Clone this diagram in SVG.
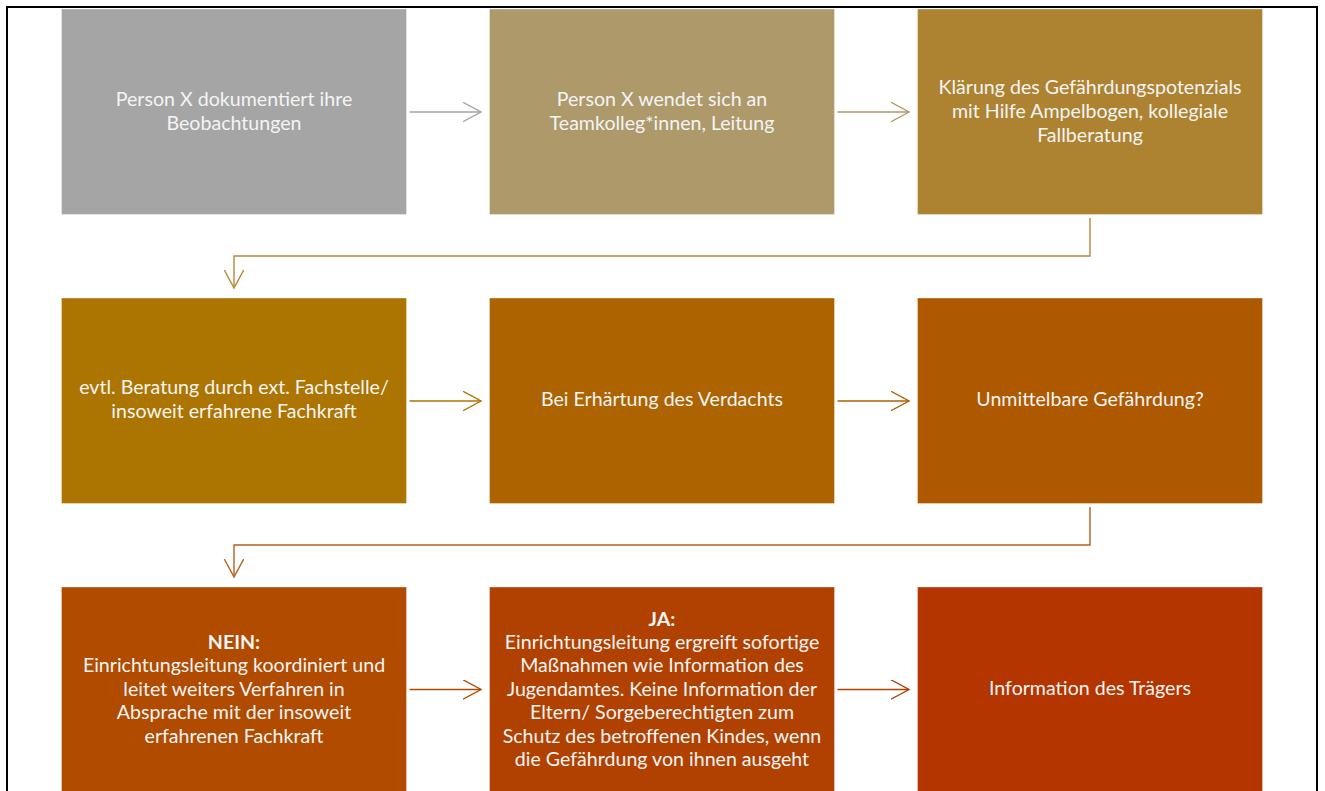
<svg xmlns="http://www.w3.org/2000/svg" width="1325" height="791" viewBox="0 0 1325 791">
<style>
.box{stroke-width:1;stroke-opacity:0.35;stroke:#ffffff}
.t{font-family:"Lato","Open Sans","Liberation Sans",sans-serif;font-size:19.6px;fill:#F4F4F4;text-anchor:middle}
.b{font-weight:bold}
.c{fill:none;stroke-width:1.4}
</style>
<defs>
<marker id="ah" markerWidth="20" markerHeight="22" refX="18" refY="10" orient="auto" markerUnits="userSpaceOnUse">
<path d="M0,0.3 L18,10 L0,19.7" fill="none" stroke="context-stroke" stroke-width="1.4"/>
</marker>
</defs>
<rect x="0" y="0" width="1325" height="791" fill="#ffffff"/>
<rect x="7" y="7" width="1310" height="820" fill="none" stroke="#000000" stroke-width="2"/>

<g id="n1"><rect class="box" x="61.5" y="9" width="345" height="205.5" fill="#A5A5A5"/>
<text class="t" x="234" y="106">Person X dokumentiert ihre</text>
<text class="t" x="234" y="130">Beobachtungen</text></g>

<g id="n2"><rect class="box" x="489.5" y="9" width="345" height="205.5" fill="#AE996B"/>
<text class="t" x="662" y="106">Person X wendet sich an</text>
<text class="t" x="662" y="130">Teamkolleg*innen, Leitung</text></g>

<g id="n3"><rect class="box" x="917.5" y="9" width="345" height="205.5" fill="#AD8332"/>
<text class="t" x="1090" y="94">Klärung des Gefährdungspotenzials</text>
<text class="t" x="1090" y="118">mit Hilfe Ampelbogen, kollegiale</text>
<text class="t" x="1090" y="142">Fallberatung</text></g>

<g id="n4"><rect class="box" x="61.5" y="298" width="345" height="205.5" fill="#AC7400"/>
<text class="t" x="234" y="394">evtl. Beratung durch ext. Fachstelle/</text>
<text class="t" x="234" y="418">insoweit erfahrene Fachkraft</text></g>

<g id="n5"><rect class="box" x="489.5" y="298" width="345" height="205.5" fill="#AD6300"/>
<text class="t" x="662" y="406">Bei Erhärtung des Verdachts</text></g>

<g id="n6"><rect class="box" x="917.5" y="298" width="345" height="205.5" fill="#AE5800"/>
<text class="t" x="1090" y="406">Unmittelbare Gefährdung?</text></g>

<g id="n7"><rect class="box" x="61.5" y="587" width="345" height="230" fill="#B04B00"/>
<text class="t b" x="234" y="649">NEIN:</text>
<text class="t" x="234" y="672">Einrichtungsleitung koordiniert und</text>
<text class="t" x="234" y="696">leitet weiters Verfahren in</text>
<text class="t" x="234" y="719">Absprache mit der insoweit</text>
<text class="t" x="234" y="743">erfahrenen Fachkraft</text></g>

<g id="n8"><rect class="box" x="489.5" y="587" width="345" height="230" fill="#B14100"/>
<text class="t b" x="662" y="626">JA:</text>
<text class="t" x="662" y="649">Einrichtungsleitung ergreift sofortige</text>
<text class="t" x="662" y="672">Maßnahmen wie Information des</text>
<text class="t" x="662" y="696">Jugendamtes. Keine Information der</text>
<text class="t" x="662" y="719">Eltern/ Sorgeberechtigten zum</text>
<text class="t" x="662" y="743">Schutz des betroffenen Kindes, wenn</text>
<text class="t" x="662" y="766">die Gefährdung von ihnen ausgeht</text></g>

<g id="n9"><rect class="box" x="917.5" y="587" width="345" height="230" fill="#B53500"/>
<text class="t" x="1090" y="695">Information des Trägers</text></g>

<g id="connectors">
<path class="c" d="M409.5,112 H481" stroke="#A5A5A5" marker-end="url(#ah)"/>
<path class="c" d="M837.5,112 H909" stroke="#AE996B" marker-end="url(#ah)"/>
<path class="c" d="M1090,218 V256 H234 V288" stroke="#B58A38" marker-end="url(#ah)"/>
<path class="c" d="M409.5,401 H481" stroke="#AC7400" marker-end="url(#ah)"/>
<path class="c" d="M837.5,401 H909" stroke="#AD6300" marker-end="url(#ah)"/>
<path class="c" d="M1090,507 V545 H234 V577" stroke="#B6621E" marker-end="url(#ah)"/>
<path class="c" d="M409.5,689.5 H481" stroke="#B04B00" marker-end="url(#ah)"/>
<path class="c" d="M837.5,689.5 H909" stroke="#B14100" marker-end="url(#ah)"/>
</g>
</svg>
